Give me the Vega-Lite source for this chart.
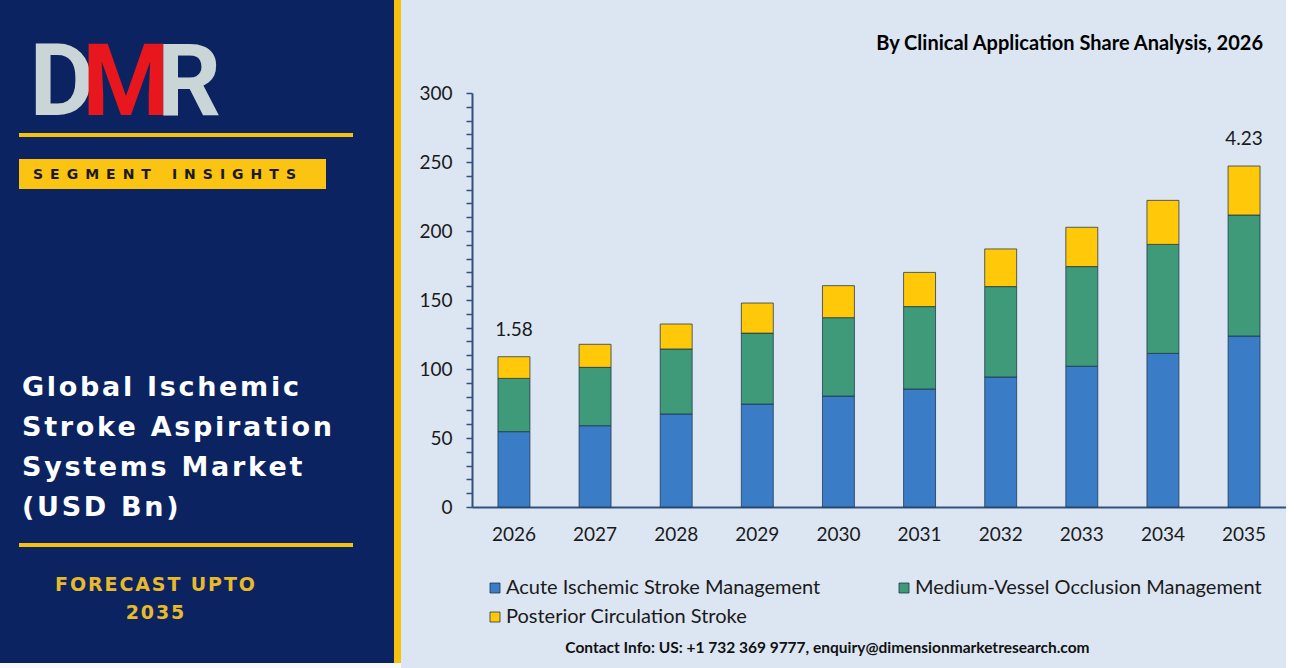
{
  "$schema": "https://vega.github.io/schema/vega-lite/v6.json",
  "padding": 0,
  "background": "#dce6f2",
  "spacing": 0,
  "config": {
    "view": {"stroke": null},
    "concat": {"spacing": 0},
    "font": "Lato"
  },
  "datasets": {
    "market": [
      {"year": "2026", "segment": "Acute Ischemic Stroke Management", "value": 54.6},
      {"year": "2026", "segment": "Medium-Vessel Occlusion Management", "value": 38.6},
      {"year": "2026", "segment": "Posterior Circulation Stroke", "value": 15.7},
      {"year": "2027", "segment": "Acute Ischemic Stroke Management", "value": 58.9},
      {"year": "2027", "segment": "Medium-Vessel Occlusion Management", "value": 42.3},
      {"year": "2027", "segment": "Posterior Circulation Stroke", "value": 16.7},
      {"year": "2028", "segment": "Acute Ischemic Stroke Management", "value": 67.4},
      {"year": "2028", "segment": "Medium-Vessel Occlusion Management", "value": 47.1},
      {"year": "2028", "segment": "Posterior Circulation Stroke", "value": 18.1},
      {"year": "2029", "segment": "Acute Ischemic Stroke Management", "value": 74.6},
      {"year": "2029", "segment": "Medium-Vessel Occlusion Management", "value": 51.4},
      {"year": "2029", "segment": "Posterior Circulation Stroke", "value": 21.8},
      {"year": "2030", "segment": "Acute Ischemic Stroke Management", "value": 80.4},
      {"year": "2030", "segment": "Medium-Vessel Occlusion Management", "value": 56.8},
      {"year": "2030", "segment": "Posterior Circulation Stroke", "value": 23.2},
      {"year": "2031", "segment": "Acute Ischemic Stroke Management", "value": 85.5},
      {"year": "2031", "segment": "Medium-Vessel Occlusion Management", "value": 59.7},
      {"year": "2031", "segment": "Posterior Circulation Stroke", "value": 24.8},
      {"year": "2032", "segment": "Acute Ischemic Stroke Management", "value": 94.2},
      {"year": "2032", "segment": "Medium-Vessel Occlusion Management", "value": 65.5},
      {"year": "2032", "segment": "Posterior Circulation Stroke", "value": 27.3},
      {"year": "2033", "segment": "Acute Ischemic Stroke Management", "value": 102.0},
      {"year": "2033", "segment": "Medium-Vessel Occlusion Management", "value": 72.2},
      {"year": "2033", "segment": "Posterior Circulation Stroke", "value": 28.5},
      {"year": "2034", "segment": "Acute Ischemic Stroke Management", "value": 111.3},
      {"year": "2034", "segment": "Medium-Vessel Occlusion Management", "value": 79.0},
      {"year": "2034", "segment": "Posterior Circulation Stroke", "value": 31.9},
      {"year": "2035", "segment": "Acute Ischemic Stroke Management", "value": 123.9},
      {"year": "2035", "segment": "Medium-Vessel Occlusion Management", "value": 87.7},
      {"year": "2035", "segment": "Posterior Circulation Stroke", "value": 35.5}
    ],
    "totals": [
      {"year": "2026", "total": 108.9, "label": "1.58"},
      {"year": "2035", "total": 247.1, "label": "4.23"}
    ],
    "decor": [{}]
  },
  "hconcat": [
    {
      "width": 401,
      "height": 414,
      "view": {"stroke": null},
      "data": {"name": "decor"},
      "encoding": {
        "x": {"datum": 0, "type": "quantitative", "scale": {"domain": [0, 401], "nice": false, "zero": false}, "axis": null},
        "y": {"datum": 0, "type": "quantitative", "scale": {"domain": [93, 507], "nice": false, "zero": false, "reverse": true}, "axis": null}
      },
      "layer": [
        {
          "mark": {"type": "rect", "color": "#0b2461"},
          "encoding": {
            "x": {"datum": 0, "type": "quantitative"}, "x2": {"datum": 394},
            "y": {"datum": 0, "type": "quantitative"}, "y2": {"datum": 663}
          }
        },
        {
          "mark": {"type": "rect", "color": "#f5c10f"},
          "encoding": {
            "x": {"datum": 394, "type": "quantitative"}, "x2": {"datum": 401},
            "y": {"datum": 0, "type": "quantitative"}, "y2": {"datum": 663}
          }
        },
        {
          "mark": {"type": "rect", "color": "#f7f9fb"},
          "encoding": {
            "x": {"datum": 0, "type": "quantitative"}, "x2": {"datum": 401},
            "y": {"datum": 663, "type": "quantitative"}, "y2": {"datum": 668}
          }
        },
        {
          "mark": {"type": "rect", "color": "#f5c10f"},
          "encoding": {
            "x": {"datum": 19, "type": "quantitative"}, "x2": {"datum": 353},
            "y": {"datum": 133, "type": "quantitative"}, "y2": {"datum": 137}
          }
        },
        {
          "mark": {"type": "rect", "color": "#fbc312"},
          "encoding": {
            "x": {"datum": 19, "type": "quantitative"}, "x2": {"datum": 326},
            "y": {"datum": 159, "type": "quantitative"}, "y2": {"datum": 189}
          }
        },
        {
          "mark": {"type": "rect", "color": "#f5c10f"},
          "encoding": {
            "x": {"datum": 19, "type": "quantitative"}, "x2": {"datum": 353},
            "y": {"datum": 543, "type": "quantitative"}, "y2": {"datum": 547}
          }
        },
        {
          "mark": {"type": "text", "text": "S\u2002E\u2002G\u2002M\u2002E\u2002N\u2002T\u2002\u2002\u2002I\u2002N\u2002S\u2002I\u2002G\u2002H\u2002T\u2002S", "font": "DejaVu Sans", "fontWeight": "bold", "fontSize": 14, "color": "#1a1a1a", "align": "left", "baseline": "middle"},
          "encoding": {"x": {"datum": 33, "type": "quantitative"}, "y": {"datum": 175, "type": "quantitative"}}
        },
        {
          "mark": {"type": "text", "text": "D", "font": "Roboto", "fontWeight": "bold", "fontSize": 100, "color": "#c9d5d6", "align": "center", "baseline": "alphabetic"},
          "encoding": {"x": {"datum": 62, "type": "quantitative"}, "y": {"datum": 115, "type": "quantitative"}}
        },
        {
          "mark": {"type": "text", "text": "M", "font": "Roboto", "fontWeight": "bold", "fontSize": 100, "color": "#e8161d", "align": "center", "baseline": "alphabetic"},
          "encoding": {"x": {"datum": 126, "type": "quantitative"}, "y": {"datum": 115, "type": "quantitative"}}
        },
        {
          "mark": {"type": "text", "text": "R", "font": "Roboto", "fontWeight": "bold", "fontSize": 100, "color": "#c9d5d6", "align": "center", "baseline": "alphabetic"},
          "encoding": {"x": {"datum": 189, "type": "quantitative"}, "y": {"datum": 115, "type": "quantitative"}}
        },
        {
          "mark": {"type": "text", "text": ["G\u200Al\u200Ao\u200Ab\u200Aa\u200Al\u2009 I\u200As\u200Ac\u200Ah\u200Ae\u200Am\u200Ai\u200Ac", "S\u200At\u200Ar\u200Ao\u200Ak\u200Ae\u2009 A\u200As\u200Ap\u200Ai\u200Ar\u200Aa\u200At\u200Ai\u200Ao\u200An", "S\u200Ay\u200As\u200At\u200Ae\u200Am\u200As\u2009 M\u200Aa\u200Ar\u200Ak\u200Ae\u200At", "(\u200AU\u200AS\u200AD\u2009 B\u200An\u200A)"], "font": "DejaVu Sans", "fontWeight": "bold", "fontSize": 27, "lineHeight": 40, "color": "#ffffff", "align": "left", "baseline": "middle"},
          "encoding": {"x": {"datum": 22, "type": "quantitative"}, "y": {"datum": 388, "type": "quantitative"}}
        },
        {
          "mark": {"type": "text", "text": ["F\u200AO\u200AR\u200AE\u200AC\u200AA\u200AS\u200AT\u2009 U\u200AP\u200AT\u200AO", "2\u200A0\u200A3\u200A5"], "font": "DejaVu Sans", "fontWeight": "bold", "fontSize": 19, "lineHeight": 28, "color": "#e9b92a", "align": "center", "baseline": "middle"},
          "encoding": {"x": {"datum": 155, "type": "quantitative"}, "y": {"datum": 585, "type": "quantitative"}}
        }
      ]
    },
    {
      "width": 814,
      "height": 414,
      "title": {
        "text": ["", "By Clinical Application Share Analysis, 2026"],
        "anchor": "end",
        "font": "Lato",
        "fontSize": 20,
        "fontWeight": "bold",
        "color": "#000000",
        "lineHeight": 34,
        "offset": 30,
        "dx": -23
      },
      "view": {"stroke": null},
      "layer": [
        {
          "data": {"name": "market"},
          "mark": {"type": "bar", "stroke": "#1f3348", "strokeWidth": 1, "strokeOpacity": 0.75},
          "encoding": {
            "x": {
              "field": "year", "type": "nominal",
              "scale": {"paddingInner": 0.606, "paddingOuter": 0.32},
              "axis": {"title": null, "labelAngle": 0, "ticks": false, "labelFontSize": 19, "labelFont": "Lato", "labelColor": "#1a1a1a", "labelPadding": 18, "domainColor": "#33507f", "domainWidth": 2}
            },
            "y": {
              "field": "value", "type": "quantitative", "stack": "zero",
              "scale": {"domain": [0, 300], "nice": false},
              "axis": {
                "title": null, "grid": false,
                "values": [0, 10, 20, 30, 40, 50, 60, 70, 80, 90, 100, 110, 120, 130, 140, 150, 160, 170, 180, 190, 200, 210, 220, 230, 240, 250, 260, 270, 280, 290, 300],
                "tickCount": 40,
                "labelExpr": "datum.value % 50 === 0 ? datum.label : ''",
                "labelOverlap": false,
                "tickSize": 6, "tickColor": "#33507f", "tickWidth": 1.5,
                "domainColor": "#33507f", "domainWidth": 2,
                "labelFontSize": 19, "labelFont": "Lato", "labelColor": "#1a1a1a", "labelPadding": 14,
                "minExtent": 71, "maxExtent": 71
              }
            },
            "color": {
              "field": "segment", "type": "nominal",
              "scale": {
                "domain": ["Acute Ischemic Stroke Management", "Medium-Vessel Occlusion Management", "Posterior Circulation Stroke"],
                "range": ["#3a7dc6", "#3e9a78", "#ffc808"]
              },
              "legend": {
                "title": null, "orient": "none", "legendX": 485, "legendY": 485,
                "direction": "horizontal", "columns": 2, "columnPadding": 73, "rowPadding": 9,
                "symbolType": "square", "symbolSize": 100, "symbolStrokeColor": "#1f3348", "symbolStrokeWidth": 0.8,
                "labelFont": "Lato", "labelFontSize": 20, "labelColor": "#1a1a1a", "labelOffset": 1, "padding": 0, "labelLimit": 400
              }
            },
            "order": {"field": "segment", "sort": "ascending"}
          }
        },
        {
          "data": {"name": "totals"},
          "mark": {"type": "text", "dy": -27, "fontSize": 19, "font": "Lato", "color": "#1a1a1a"},
          "encoding": {
            "x": {"field": "year", "type": "nominal"},
            "y": {"field": "total", "type": "quantitative"},
            "text": {"field": "label"}
          }
        },
        {
          "data": {"name": "decor"},
          "mark": {"type": "text", "text": "Contact Info: US: +1 732 369 9777, enquiry@dimensionmarketresearch.com", "font": "Lato", "fontWeight": "bold", "fontSize": 15.5, "color": "#111111", "dx": -11},
          "encoding": {
            "x": {"datum": "2030", "type": "nominal"},
            "y": {"datum": -102, "type": "quantitative"}
          }
        }
      ]
    }
  ]
}
